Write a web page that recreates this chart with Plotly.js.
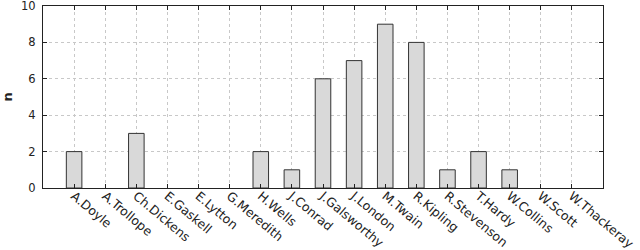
<!DOCTYPE html>
<html><head><meta charset="utf-8">
<script src="https://cdn.plot.ly/plotly-3.0.1.min.js"></script>
<style>body{margin:0;background:#fff}#c{width:640px;height:250px}</style>
</head><body><div id="c"></div>
<script>
const authors = ["A.Doyle","A.Trollope","Ch.Dickens","E.Gaskell","E.Lytton","G.Meredith","H.Wells","J.Conrad","J.Galsworthy","J.London","M.Twain","R.Kipling","R.Stevenson","T.Hardy","W.Collins","W.Scott","W.Thackeray"];
const counts = [2,0,3,0,0,0,2,1,6,7,9,8,1,2,1,0,0];
const yTicks = [0,2,4,6,8,10];
const idx = authors.map((_, i) => i);

Plotly.newPlot('c', [{
  type: 'bar', x: idx, y: counts.map(v => v === 0 ? null : v), width: 0.5,
  marker: {color: '#e8e8e8', line: {color: '#333', width: 1},
    pattern: {shape: '.', fgcolor: '#b4b4b4', bgcolor: '#f2f2f2', size: 2, solidity: 0.45}},
  hoverinfo: 'none'
}], {
  width: 640, height: 250,
  margin: {l: 43, r: 37, t: 6, b: 62},
  paper_bgcolor: '#fff', plot_bgcolor: '#fff',
  font: {family: 'DejaVu Sans', size: 12, color: '#222'},
  showlegend: false,
  xaxis: {range: [-1, 17], tickmode: 'array', tickvals: idx, ticktext: authors,
    tickangle: 40, showgrid: true, gridcolor: '#c8c8c8', griddash: 'dot', gridwidth: 1,
    showline: true, linecolor: '#222', linewidth: 1, mirror: 'ticks',
    ticks: 'inside', ticklen: 4, tickcolor: '#222', zeroline: false,
    ticklabeloverflow: 'allow', ticklabelstandoff: -5,
    tickfont: {size: 12.5}},
  yaxis: {range: [0, 10], tickmode: 'array', tickvals: yTicks,
    showgrid: true, gridcolor: '#c8c8c8', griddash: 'dot', gridwidth: 1,
    showline: true, linecolor: '#222', linewidth: 1, mirror: 'ticks',
    ticks: 'inside', ticklen: 4, tickcolor: '#222', zeroline: false,
    ticklabeloverflow: 'allow', ticklabelstandoff: 4,
    title: {text: 'n', font: {size: 13, weight: 'bold'}, standoff: 17},
    tickfont: {size: 11.5}}
}, {staticPlot: true});
</script></body></html>
